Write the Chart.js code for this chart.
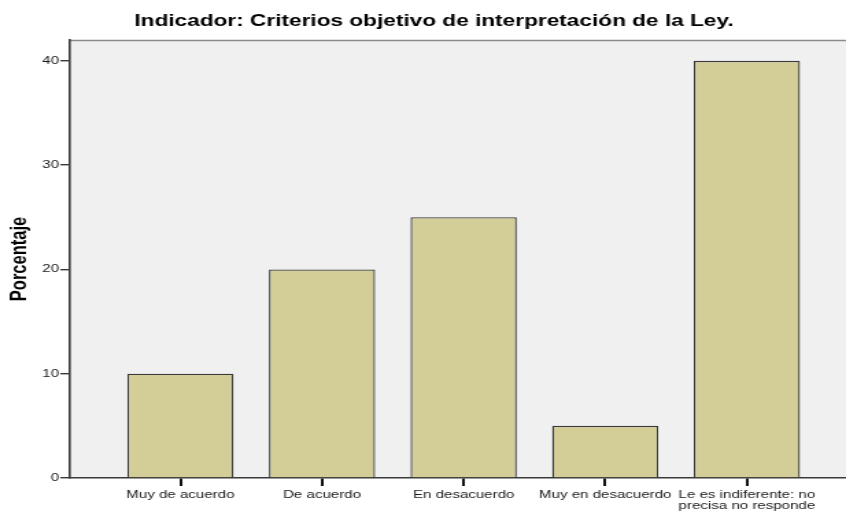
<!DOCTYPE html>
<html>
<head>
<meta charset="utf-8">
<script src="https://cdn.jsdelivr.net/npm/chart.js@4.4.0/dist/chart.umd.min.js"></script>
<style>
  html, body { margin: 0; padding: 0; background: #ffffff; overflow: hidden; }
  #wrap { width: 846px; height: 511px; position: relative; }
</style>
</head>
<body>
<div id="wrap"><canvas id="c" width="617" height="511" style="width:846px;height:511px;display:block;"></canvas></div>
<script>
const chartTitle = 'Indicador: Criterios objetivo de interpretación de la Ley.';
const yAxisTitle = 'Porcentaje';
const categories = [
  'Muy de acuerdo',
  'De acuerdo',
  'En desacuerdo',
  'Muy en desacuerdo',
  ['Le es indiferente: no', 'precisa no responde']
];
const percentages = [10, 20, 25, 5, 40];
const yTicks = [0, 10, 20, 30, 40];

const points = percentages.map((v, i) => ({ x: i, y: v }));

const plotBg = {
  id: 'plotBg',
  beforeDraw(chart) {
    const { ctx, chartArea: a } = chart;
    ctx.save();
    ctx.fillStyle = '#f0f0f0';
    ctx.fillRect(a.left, a.top, a.right - a.left, a.bottom - a.top);
    ctx.strokeStyle = '#8a8a8a';
    ctx.lineWidth = 1.5;
    ctx.beginPath();
    ctx.moveTo(a.left, a.top + 0.5);
    ctx.lineTo(a.right, a.top + 0.5);
    ctx.stroke();
    ctx.restore();
  },
  afterDraw(chart) {
    const { ctx } = chart;
    ctx.save();
    ctx.fillStyle = '#000000';
    ctx.font = 'bold 16.5px "Liberation Sans", Arial, sans-serif';
    ctx.textAlign = 'center';
    ctx.textBaseline = 'middle';
    ctx.fillText(chartTitle, 316.5, 21);
    ctx.restore();
  }
};

new Chart(document.getElementById('c'), {
  type: 'bar',
  data: {
    datasets: [{
      data: points,
      backgroundColor: '#d3ce97',
      borderColor: '#3a3a3a',
      borderWidth: 1.3,
      categoryPercentage: 1,
      barPercentage: 0.75
    }]
  },
  plugins: [plotBg],
  options: {
    responsive: false,
    animation: false,
    devicePixelRatio: 1,
    layout: { padding: { top: 40, right: 0, left: 0, bottom: 0 } },
    plugins: {
      legend: { display: false },
      title: { display: false },
      tooltip: { enabled: false }
    },
    scales: {
      x: {
        type: 'linear',
        offset: false,
        min: -0.78,
        max: 4.70,
        afterFit(scale) { scale.height = 33; },
        afterBuildTicks(scale) { scale.ticks = categories.map((_, i) => ({ value: i })); },
        grid: { display: true, offset: false, drawOnChartArea: false, drawTicks: true, tickLength: 8, tickColor: '#111111', color: '#111111', tickWidth: 2, lineWidth: 2 },
        border: { display: true, color: '#3a3a3a', width: 1.6 },
        ticks: {
          autoSkip: false,
          maxRotation: 0,
          minRotation: 0,
          padding: 3,
          color: '#1a1a1a',
          font: { family: '"Liberation Sans", Arial, sans-serif', size: 11, lineHeight: 1.0 },
          callback: (v) => categories[v]
        }
      },
      y: {
        min: 0,
        max: 42,
        afterFit(scale) { scale.width = 51; },
        afterBuildTicks(scale) { scale.ticks = yTicks.map(v => ({ value: v })); },
        grid: { display: true, drawOnChartArea: false, drawTicks: true, tickLength: 7, tickColor: '#3a3a3a', color: '#3a3a3a', tickWidth: 1.4, lineWidth: 1.4 },
        border: { display: true, color: '#3a3a3a', width: 1.6 },
        ticks: {
          padding: 1,
          color: '#1a1a1a',
          font: { family: '"Liberation Sans", Arial, sans-serif', size: 11 }
        },
        title: {
          display: true,
          text: yAxisTitle,
          color: '#000000',
          padding: { top: 5, bottom: 0 },
          font: { family: '"Liberation Sans", Arial, sans-serif', size: 16.5, weight: 'bold', lineHeight: 1.2 }
        }
      }
    }
  }
});
</script>
</body>
</html>
